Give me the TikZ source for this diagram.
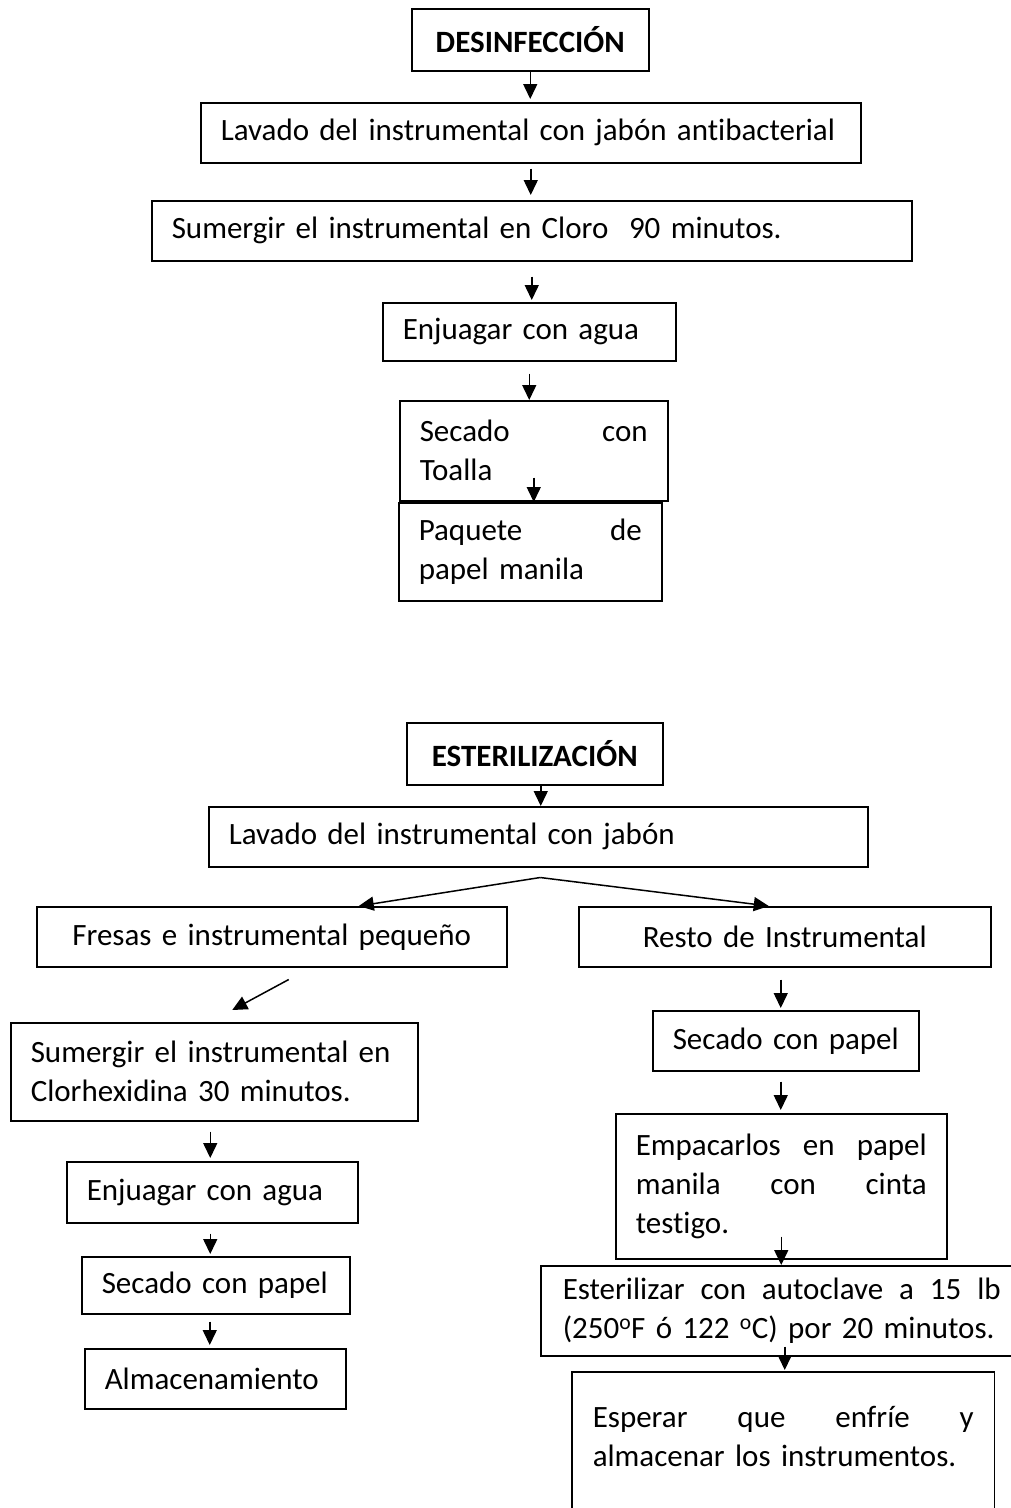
\documentclass[tikz,border=0pt]{standalone}
\usepackage{fontspec}
\setmainfont{Carlito}[Ligatures=NoCommon]
\usetikzlibrary{arrows.meta}
\setlength{\parindent}{0pt}

\begin{document}
\begin{tikzpicture}[x=1pt,y=-1pt,
    box/.style={draw, line width=1.5pt, anchor=north west, inner xsep=20pt, inner ysep=0pt,
        align=left, font=\fontsize{31}{39}\selectfont},
    arr/.style={line width=1.5pt, -{Triangle[length=15pt,width=14pt]}}]
\path[use as bounding box, fill=white] (0,0) rectangle (1011,1508);
\clip (0,0) rectangle (1011,1508);

% desinfeccion
\node[box, align=center, text width=197pt, minimum height=62pt] (des) at (411,8) {\textbf{DESINFECCIÓN}};
\node[box, text width=620pt, minimum height=60pt] (lav1) at (200,102) {\mbox{Lavado del instrumental con jabón antibacterial}};
\node[box, text width=720pt, minimum height=60pt] (sum1) at (151,200) {Sumergir el instrumental en Cloro\ \ 90 minutos.};
\node[box, text width=253pt, minimum height=58pt] (enj1) at (382,302) {\mbox{Enjuagar con agua}};
\node[box, text width=228pt, minimum height=100pt] (sec1) at (399,400) {\makebox[228pt][s]{Secado\hfill con}\\Toalla};
\node[box, text width=223pt, minimum height=98pt] (paq) at (398,502) {\makebox[223pt][s]{Paquete\hfill de}\\papel manila};

\draw[arr, shorten >=3pt] (des.south) -- (des.south |- lav1.north);
\draw[arr, shorten <=5pt, shorten >=5pt] (lav1.south) -- (lav1.south |- sum1.north);
\draw[arr, shorten <=15pt, shorten >=2pt] (sum1.south) -- (sum1.south |- enj1.north);
\draw[arr, shorten <=12pt] (enj1.south) -- (enj1.south |- sec1.north);
\draw[arr] ([yshift=24pt]sec1.south) -- (sec1.south |- paq.north);

% esterilizacion
\node[box, align=center, text width=216pt, minimum height=62pt] (est) at (406,722) {\textbf{ESTERILIZACIÓN}};
\node[box, text width=619pt, minimum height=60pt] (lav2) at (208,806) {Lavado del instrumental con jabón};
\node[box, align=center, text width=430pt, minimum height=60pt] (fre) at (36,906) {\mbox{Fresas e instrumental pequeño}};
\node[box, align=center, text width=372pt, minimum height=60pt] (res) at (578,906) {Resto de Instrumental};

% rama izquierda
\node[box, text width=367pt, minimum height=98pt] (sum2) at (10,1022) {\mbox{Sumergir el instrumental en}\\\mbox{Clorhexidina 30 minutos.}};
\node[box, text width=251pt, minimum height=61pt] (enj2) at (66,1161) {\mbox{Enjuagar con agua}};
\node[box, text width=228pt, minimum height=57pt] (sec2) at (81,1256) {\mbox{Secado con papel}};
\node[box, text width=221pt, minimum height=60pt] (alm) at (84,1348) {Almacenamiento};

% rama derecha
\node[box, text width=226pt, minimum height=60pt] (sec3) at (652,1010) {\mbox{Secado con papel}};
\node[box, text width=291pt, minimum height=145pt] (emp) at (615,1113)
    {\makebox[291pt][s]{Empacarlos\hfill en\hfill papel}\\\makebox[291pt][s]{manila\hfill con\hfill cinta}\\testigo.};
\node[box, inner xsep=22pt, text width=438pt, minimum height=90pt] (ste) at (540,1265)
    {\makebox[438pt][s]{Esterilizar\hfill con\hfill autoclave\hfill a\hfill 15\hfill lb}\\\mbox{(250\textsuperscript{o}F ó 122 \textsuperscript{o}C) por 20 minutos.}};
\node[box, draw=none, text width=381pt, minimum height=128pt] (esp) at (572,1372)
    {\makebox[381pt][s]{Esperar\hfill que\hfill enfríe\hfill y}\\\mbox{almacenar los instrumentos.}};
\draw[line width=1.5pt] (esp.north west) rectangle ([yshift=-40pt]esp.south east);

\draw[arr] ([xshift=6pt]est.south) -- ([xshift=6pt]est.south |- lav2.north);
\coordinate (split) at ([xshift=2pt,yshift=-10pt]lav2.south);
\draw[arr] (split) -- ([xshift=87pt]fre.north);
\draw[arr] (split) -- ([xshift=-16pt]res.north);
\draw[arr] ([xshift=17pt,yshift=-12pt]fre.south) -- ([xshift=18pt,yshift=12pt]sum2.north);
\draw[arr, shorten <=10pt, shorten >=3pt] ([xshift=-4pt]sum2.south) -- ([xshift=-4pt]sum2.south |- enj2.north);
\draw[arr, shorten <=10pt, shorten >=2pt] ([xshift=-2pt]enj2.south) -- ([xshift=-2pt]enj2.south |- sec2.north);
\draw[arr, shorten <=7pt, shorten >=3pt] ([xshift=-6pt]sec2.south) -- ([xshift=-6pt]sec2.south |- alm.north);
\draw[arr, shorten <=12pt, shorten >=2pt] ([xshift=-4pt]res.south) -- ([xshift=-4pt]res.south |- sec3.north);
\draw[arr, shorten <=10pt, shorten >=3pt] ([xshift=-5pt]sec3.south) -- ([xshift=-5pt]sec3.south |- emp.north);
\draw[arr] ([yshift=23pt]emp.south) -- (emp.south |- ste.north);
\draw[arr, shorten >=2pt] ([xshift=3pt,yshift=10pt]ste.south) -- ([xshift=3pt]ste.south |- esp.north);
\end{tikzpicture}
\end{document}
